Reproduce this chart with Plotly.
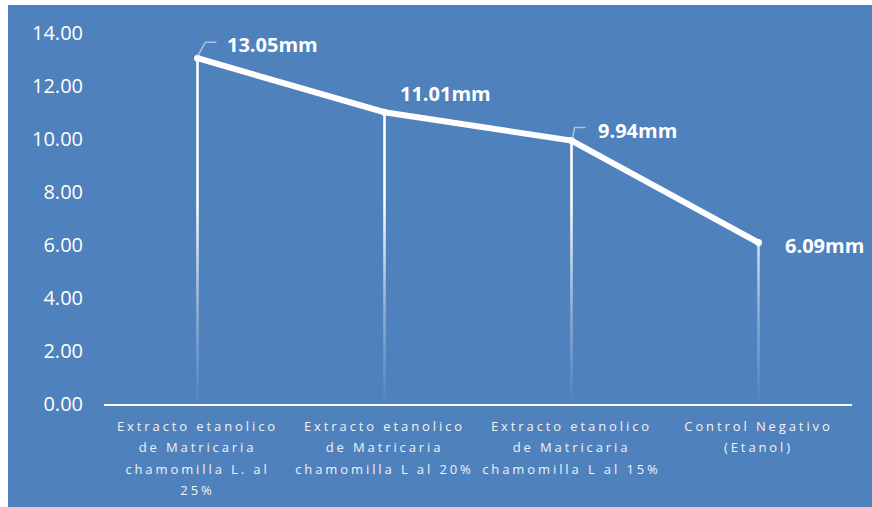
import plotly.graph_objects as go
import numpy as np

categories = [
    "Extracto etanolico<br>de Matricaria<br>chamomilla L. al<br>25%",
    "Extracto etanolico<br>de Matricaria<br>chamomilla L al 20%",
    "Extracto etanolico<br>de Matricaria<br>chamomilla L al 15%",
    "Control Negativo<br>(Etanol)",
]
values = [13.05, 11.01, 9.94, 6.09]
labels = ["13.05mm", "11.01mm", "9.94mm", "6.09mm"]
y_ticks = [0, 2, 4, 6, 8, 10, 12, 14]

BLUE = "#4F81BD"
W, H = 872, 507
ML, MR, MT, MB = 104, 20, 33, 103
pw, ph = W - ML - MR, H - MT - MB

xs = list(range(len(categories)))
fig = go.Figure()

# drop lines with fading gradient (thin filled polygons)
half = 1.3 / pw * 4  # half width of drop line in category units (~1.3 px)
for x, v in zip(xs, values):
    fig.add_trace(go.Scatter(
        x=[x - half, x + half, x + half, x - half, x - half],
        y=[0, 0, v, v, 0], mode="lines", fill="toself",
        line=dict(width=0, color="rgba(0,0,0,0)"),
        fillgradient=dict(type="vertical", start=0, stop=14,
                          colorscale=[[0, "rgba(255,255,255,0.02)"],
                                      [0.25, "rgba(255,255,255,0.35)"],
                                      [0.55, "rgba(255,255,255,1)"],
                                      [1, "rgba(255,255,255,1)"]]),
        hoverinfo="skip", showlegend=False))

# main line
fig.add_trace(go.Scatter(
    x=xs, y=values, mode="lines+markers",
    line=dict(color="white", width=6),
    marker=dict(color="white", size=7),
    showlegend=False, hoverinfo="skip"))

# data labels
shifts = [(27, 14), (13, 19), (24, 10), (24, -3)]
for x, v, t, (dx, dy) in zip(xs, values, labels, shifts):
    fig.add_annotation(x=x, y=v, text=f"<b>{t}</b>", showarrow=False,
                       xanchor="left", yanchor="middle", xshift=dx, yshift=dy,
                       font=dict(family="Open Sans", size=20, color="white"))

# leader lines
leaders = {0: "M 0 2 L 8 16 L 19 16", 2: "M 1 2 L 3 13 L 14 13"}
shapes = [dict(type="rect", xref="paper", yref="paper", layer="below",
               x0=(8 - ML) / pw, x1=(W - ML) / pw,
               y0=(ph + MT - H) / ph, y1=(ph + MT - 5) / ph,
               fillcolor=BLUE, line=dict(width=0))]
for i, p in leaders.items():
    shapes.append(dict(type="path", xref="x", yref="y", xsizemode="pixel", ysizemode="pixel",
                       xanchor=xs[i], yanchor=values[i], path=p,
                       line=dict(color="rgba(200,210,225,0.8)", width=1.5), layer="above"))

sp = "<span style='font-size:13px;letter-spacing:2.9px'>"
tick_text = [sp + c.replace("<br>", "</span><br>" + sp) + "</span>" for c in categories]

fig.update_layout(
    width=W, height=H,
    margin=dict(l=ML, r=MR, t=MT, b=MB, pad=0, autoexpand=False),
    paper_bgcolor="white", plot_bgcolor="rgba(0,0,0,0)",
    shapes=shapes,
    xaxis=dict(range=[-0.5, 3.5], tickmode="array", tickvals=xs, ticktext=tick_text,
               showgrid=False, zeroline=False, showline=True, linecolor="white", linewidth=2,
               ticks="", tickangle=0, ticklabelstandoff=5, automargin=False,
               tickfont=dict(family="Open Sans", size=16.5, color="#F2F2F2")),
    yaxis=dict(range=[0, 14], tickmode="array", tickvals=y_ticks,
               ticktext=[f"{t:.2f}" for t in y_ticks], automargin=False,
               showgrid=False, zeroline=False, showline=False, ticks="",
               ticklabelstandoff=20,
               tickfont=dict(family="Open Sans", size=20, color="white")),
)

fig.write_html("out.html")
